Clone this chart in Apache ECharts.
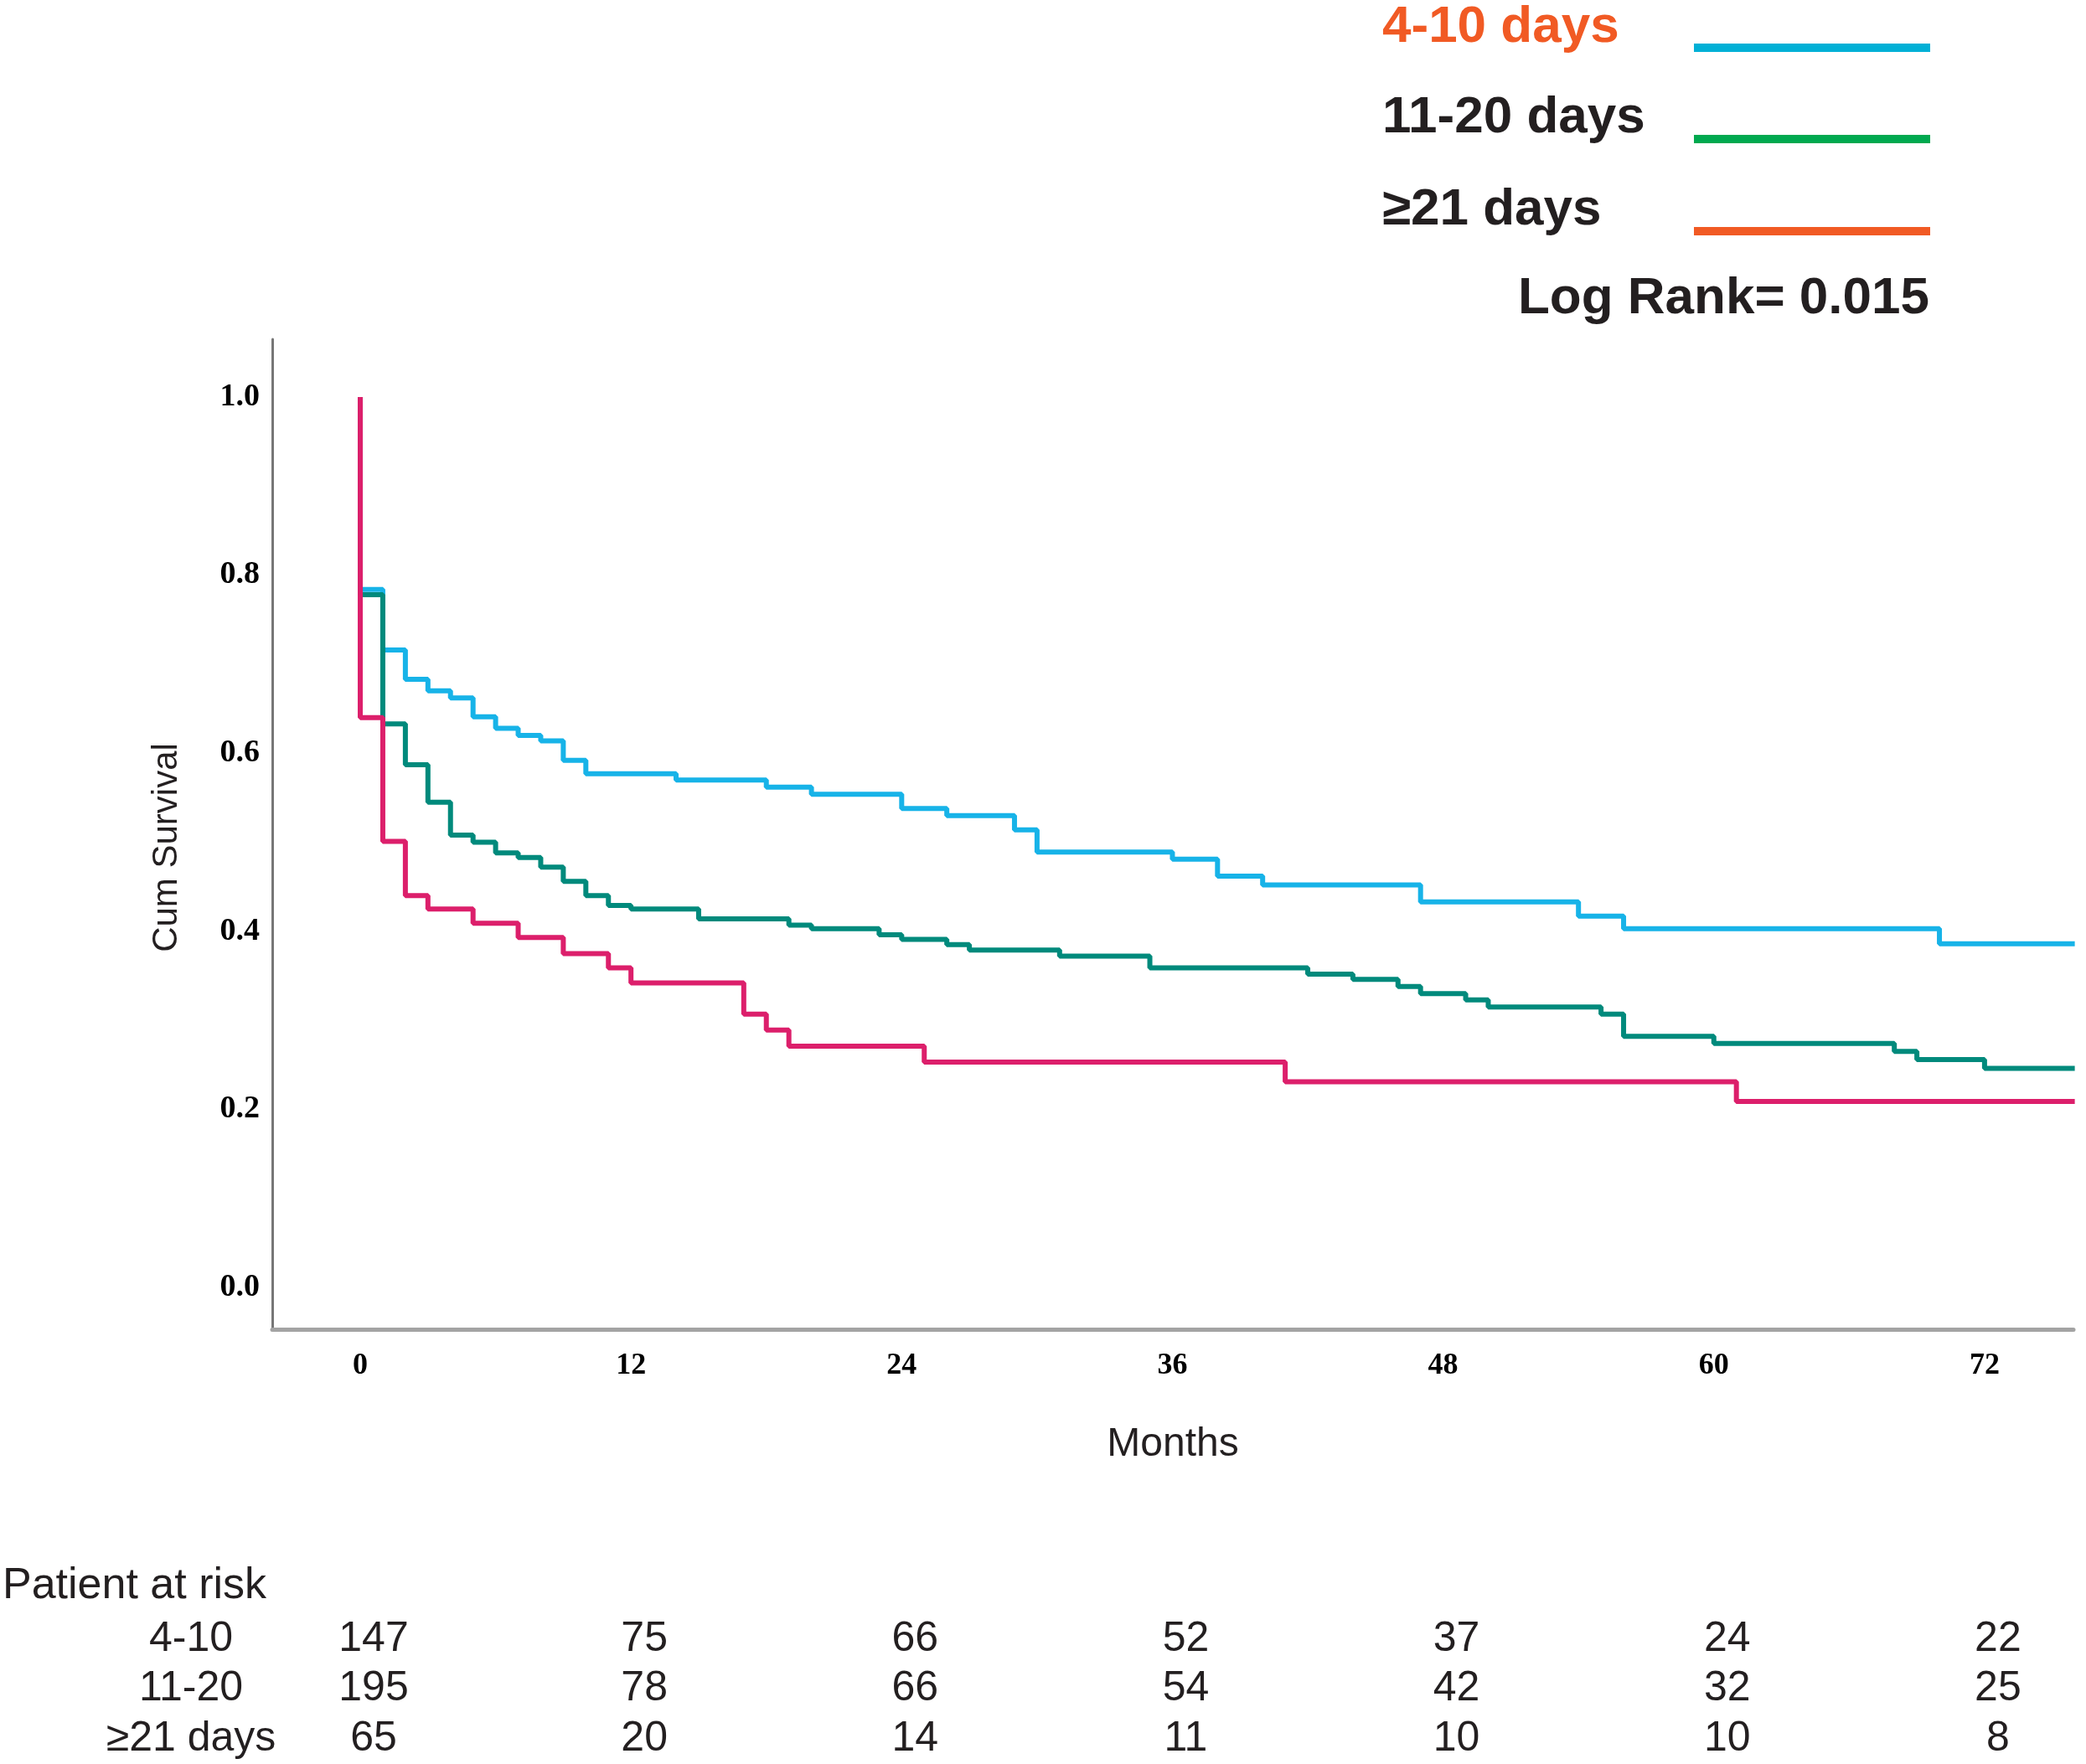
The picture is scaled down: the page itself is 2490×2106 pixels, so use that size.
<!DOCTYPE html>
<html>
<head>
<meta charset="utf-8">
<script src="https://cdn.jsdelivr.net/npm/echarts@6/dist/echarts.min.js"></script>
<style>
html,body{margin:0;padding:0;background:#fff;}
#chart{width:2490px;height:2106px;}
</style>
</head>
<body>
<div id="chart"></div>
<script>
// ---- data ----
const seriesNames = ['4-10 days', '11-20 days', '≥21 days'];

const months410 = [0, 0, 1, 2, 3, 4, 5, 6, 7, 8, 9, 10, 14, 18, 20, 24, 26, 29, 30, 36, 38, 40, 47, 54, 56, 70, 76];
const surv410   = [1.0, 0.784, 0.716, 0.683, 0.670, 0.662, 0.641, 0.628, 0.620, 0.614, 0.592, 0.577, 0.570, 0.562, 0.554, 0.538, 0.530, 0.514, 0.489, 0.481, 0.462, 0.452, 0.433, 0.417, 0.403, 0.386, 0.386];

const months1120 = [0, 0, 1, 2, 3, 4, 5, 6, 7, 8, 9, 10, 11, 12, 15, 19, 20, 23, 24, 26, 27, 31, 35, 42, 44, 46, 47, 49, 50, 55, 56, 60, 68, 69, 72, 76];
const surv1120   = [1.0, 0.778, 0.633, 0.587, 0.545, 0.508, 0.500, 0.488, 0.483, 0.472, 0.456, 0.440, 0.429, 0.425, 0.414, 0.407, 0.403, 0.396, 0.391, 0.385, 0.379, 0.372, 0.359, 0.352, 0.346, 0.338, 0.330, 0.323, 0.315, 0.307, 0.282, 0.274, 0.265, 0.256, 0.246, 0.246];

const months21 = [0, 0, 1, 2, 3, 5, 7, 9, 11, 12, 17, 18, 19, 25, 41, 61, 76];
const surv21   = [1.0, 0.640, 0.501, 0.440, 0.425, 0.409, 0.393, 0.375, 0.359, 0.342, 0.307, 0.289, 0.271, 0.253, 0.231, 0.209, 0.209];

const xTicks = [0, 12, 24, 36, 48, 60, 72];
const yTicks = [0, 0.2, 0.4, 0.6, 0.8, 1.0];

const riskTitle = 'Patient at risk';
const riskRows  = ['4-10', '11-20', '≥21 days'];
const riskTimes = [0, 12, 24, 36, 48, 60, 72];
const risk410   = [147, 75, 66, 52, 37, 24, 22];
const risk1120  = [195, 78, 66, 54, 42, 32, 25];
const risk21    = [65, 20, 14, 11, 10, 10, 8];

const logRankText = 'Log Rank= 0.015';

// ---- styling / layout ----
const lineColors   = ['#17b3e8', '#008a7c', '#dc1f6b'];
const legendColors = ['#00b0d6', '#00a94f', '#f15a24'];
const legendTextColors = ['#f15a24', '#231f20', '#231f20'];
const TXT = '#231f20';
const X_MIN = -3.9, X_MAX = 75.94, Y_MIN = -0.047, Y_MAX = 1.065;
const RISK_FONT = '50px "Liberation Sans", Arial, sans-serif';
const RISK_DX = 16;

const pairs = (xs, ys) => xs.map((x, i) => [x, ys[i]]);
const curves = [pairs(months410, surv410), pairs(months1120, surv1120), pairs(months21, surv21)];
const riskArrays = [risk410, risk1120, risk21];

const riskData = [];
riskArrays.forEach((arr, r) => {
  riskTimes.forEach((t, j) => riskData.push([t, r, arr[j]]));
});

const chart = echarts.init(document.getElementById('chart'), null, {renderer: 'canvas'});

const FONT_LEG = 'bold 62px "Liberation Sans", Arial, sans-serif';
const legendGraphics = [];
const legendTextY = [33, 141, 251];
const legendLineY = [57, 166, 276];
seriesNames.forEach((n, i) => {
  legendGraphics.push({
    type: 'text', x: 1650, y: legendTextY[i],
    style: {text: n, font: FONT_LEG, fill: legendTextColors[i],
            align: 'left', verticalAlign: 'middle', textAlign: 'left', textVerticalAlign: 'middle'}
  });
  legendGraphics.push({
    type: 'line',
    shape: {x1: 2022, y1: legendLineY[i], x2: 2304, y2: legendLineY[i]},
    style: {stroke: legendColors[i], lineWidth: 10}
  });
});
legendGraphics.push({
  type: 'text', x: 2303, y: 357,
  style: {text: logRankText, font: FONT_LEG, fill: TXT,
          align: 'right', verticalAlign: 'middle', textAlign: 'right', textVerticalAlign: 'middle'}
});
legendGraphics.push({
  type: 'text', x: 3, y: 1894,
  style: {text: riskTitle, font: '52px "Liberation Sans", Arial, sans-serif', fill: TXT,
          align: 'left', verticalAlign: 'middle', textAlign: 'left', textVerticalAlign: 'middle'}
});

const option = {
  animation: false,
  backgroundColor: '#ffffff',
  graphic: legendGraphics,
  grid: [
    {left: 325, right: 15, top: 405, bottom: 519, containLabel: false},
    {left: 325, right: 15, top: 1927, height: 186, containLabel: false}
  ],
  xAxis: [
    {
      type: 'value', gridIndex: 0, min: X_MIN, max: X_MAX,
      axisLine: {show: true, onZero: false, lineStyle: {color: '#a3a3a3', width: 5}},
      axisTick: {show: false},
      splitLine: {show: false},
      axisLabel: {
        customValues: xTicks, margin: 26,
        fontFamily: '"Liberation Serif", "Times New Roman", serif', fontWeight: 'bold', fontSize: 36, color: '#000'
      },
      name: 'Months', nameLocation: 'middle', nameGap: 114,
      nameTextStyle: {fontFamily: '"Liberation Sans", Arial, sans-serif', fontSize: 48, color: TXT}
    },
    {
      type: 'value', gridIndex: 1, min: X_MIN, max: X_MAX, show: false
    }
  ],
  yAxis: [
    {
      type: 'value', gridIndex: 0, min: Y_MIN, max: Y_MAX,
      axisLine: {show: true, onZero: false, lineStyle: {color: '#777777', width: 3}},
      axisTick: {show: false},
      splitLine: {show: false},
      axisLabel: {
        customValues: yTicks, margin: 15, formatter: v => v.toFixed(1),
        fontFamily: '"Liberation Serif", "Times New Roman", serif', fontWeight: 'bold', fontSize: 38, color: '#000'
      },
      name: 'Cum Survival', nameLocation: 'middle', nameRotate: 90, nameGap: 105,
      nameTextStyle: {fontFamily: '"Liberation Sans", Arial, sans-serif', fontSize: 42, color: TXT, padding: [0, 32, 0, 0]}
    },
    {
      type: 'category', gridIndex: 1, data: riskRows, inverse: true,
      axisLine: {show: false}, axisTick: {show: false}, splitLine: {show: false},
      axisLabel: {interval: 0, margin: 97, align: 'center', fontFamily: '"Liberation Sans", Arial, sans-serif', fontSize: 50, color: TXT}
    }
  ],
  series: [
    ...curves.map((d, i) => ({
      name: seriesNames[i], type: 'line', step: 'end', data: d,
      xAxisIndex: 0, yAxisIndex: 0,
      symbol: 'none', showSymbol: false,
      lineStyle: {color: lineColors[i], width: 6},
      itemStyle: {color: lineColors[i]},
      z: 2 + i
    })),
    {
      name: 'Patient at risk', type: 'custom', xAxisIndex: 1, yAxisIndex: 1,
      data: riskData, encode: {x: 0, y: 1}, silent: true,
      renderItem: (params, api) => {
        const p = api.coord([api.value(0), api.value(1)]);
        return {
          type: 'text', x: p[0] + RISK_DX, y: p[1],
          style: {text: String(api.value(2)), font: RISK_FONT, fill: TXT,
                  align: 'center', verticalAlign: 'middle', textAlign: 'center', textVerticalAlign: 'middle'}
        };
      }
    }
  ]
};
chart.setOption(option);
</script>
</body>
</html>
